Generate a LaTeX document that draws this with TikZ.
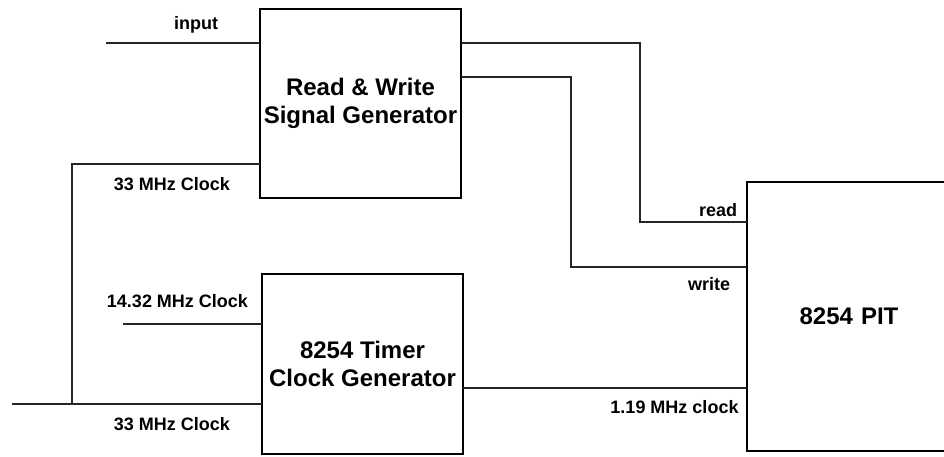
\documentclass[tikz,border=0pt]{standalone}
\usepackage{fontspec}
\setmainfont{Liberation Sans}
\usepackage{tikz}
\usetikzlibrary{positioning}

\begin{document}
\begin{tikzpicture}[x=1pt,y=-1pt,
  block/.style={rectangle,draw,line width=2pt,inner sep=0pt,outer sep=0pt,
                align=center,font=\bfseries\fontsize{24}{28}\selectfont},
  wire/.style={line width=1.3pt,black!85},
  tag/.style={font=\bfseries\fontsize{18}{21}\selectfont,inner sep=0pt}]

\useasboundingbox (0,0) rectangle (944,457);

\node[block,minimum width=201pt,minimum height=189pt] (rw) at (360.5,103.5)
  {Read \& Write\\Signal Generator};
\node[block,minimum width=201pt,minimum height=180pt] (timer) at (362.5,364)
  {8254 Timer\\Clock Generator};
\node[block,minimum width=204pt,minimum height=269pt,text width=200pt] (pit) at (849,316.5)
  {8254 PIT};

\coordinate (inA) at (106,43);
\coordinate (clkA) at (72,164);
\coordinate (clkB) at (12,404);
\coordinate (fastA) at (123,324);
\coordinate (rd1) at (640,43);
\coordinate (rd2) at (640,222);
\coordinate (wr1) at (571,77);
\coordinate (wr2) at (571,267);
\coordinate (pitclk) at (747,388);

\draw[wire] (inA) -- (inA -| rw.west);
\draw[wire] (clkA -| rw.west) -- (clkA) -- (clkA |- clkB);
\draw[wire] (clkB) -- (clkB -| timer.west);
\draw[wire] (fastA) -- (fastA -| timer.west);
\draw[wire] (rd1 -| rw.east) -- (rd1) -- (rd2) -- (rd2 -| pit.west);
\draw[wire] (wr1 -| rw.east) -- (wr1) -- (wr2) -- (wr2 -| pit.west);
\draw[wire] (pitclk -| timer.east) -- (pitclk -| pit.west);

\node[tag] (tin) at (196,25) {input};
\node[tag] (tclk1) at (172,184) {33 MHz Clock};
\node[tag] (tfast) at (177.5,301.5) {14.32 MHz Clock};
\node[tag] (tclk2) at (172,424.5) {33 MHz Clock};
\node[tag] (trd) at (718,210.5) {read};
\node[tag] (twr) at (709,284) {write};
\node[tag] (tout) at (674.5,407.5) {1.19 MHz clock};
\end{tikzpicture}
\end{document}
